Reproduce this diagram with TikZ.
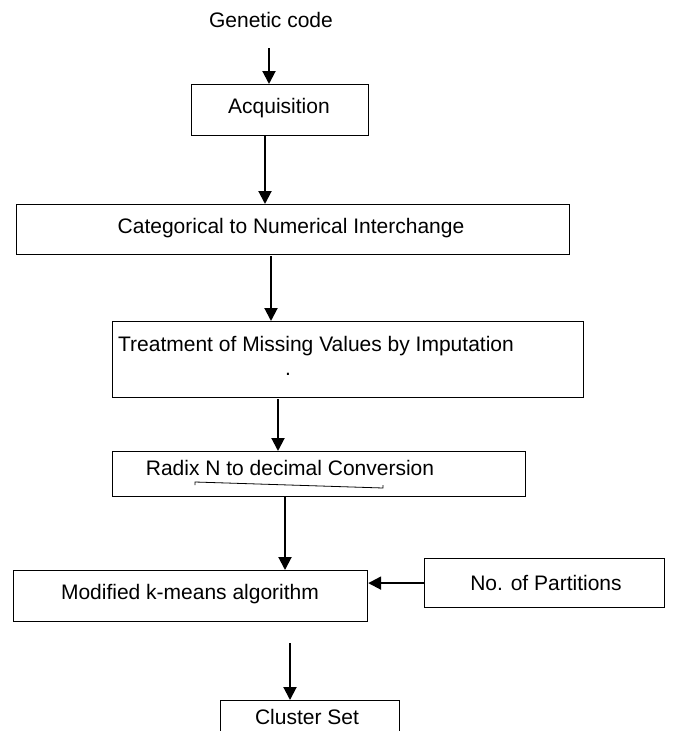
\documentclass[tikz,border=0pt]{standalone}
\usepackage{fontspec}
\setmainfont{Liberation Sans}
\usetikzlibrary{arrows.meta}
\tikzset{
  box/.style={draw, line width=1.2pt, inner sep=0pt, anchor=north west},
  lbl/.style={font=\fontsize{21}{24}\selectfont, inner sep=0pt},
  arr/.style={line width=2pt, -{Triangle[length=13pt,width=13pt]}}
}
\begin{document}
\begin{tikzpicture}[x=1pt,y=-1pt]
\useasboundingbox (0,0) rectangle (683,731);
% boxes
\node[box, minimum width=177pt, minimum height=51pt] (acq) at (191,84) {};
\node[box, minimum width=553pt, minimum height=50pt] (cat) at (16,204) {};
\node[box, minimum width=471pt, minimum height=76pt] (trt) at (112,321) {};
\node[box, minimum width=413pt, minimum height=45pt] (rad) at (112,451) {};
\node[box, minimum width=354pt, minimum height=51pt] (mod) at (13,570) {};
\node[box, minimum width=240pt, minimum height=49pt] (part) at (424,558) {};
\node[box, minimum width=179pt, minimum height=60pt] (clu) at (220,700) {};
% labels
\node[lbl] (tgen) at (271,20) {Genetic code};
\node[lbl] (tacq) at (279,108) {Acquisition};
\node[lbl] (tcat) at (291,228) {Categorical to Numerical Interchange};
\node[lbl] (ttrt) at (316,346) {Treatment of Missing Values by Imputation};
\node[lbl] (tdot) at (288,374) {.};
\node[lbl] (trad) at (290,468) {Radix N to decimal Conversion};
\node[lbl] (tmod) at (190,594) {Modified k-means algorithm};
\node[lbl] (tpart) at (546,583) {No. of Partitions};
\node[lbl] (tclu) at (307,717) {Cluster Set};
% bracket under radix text
\coordinate (b1) at (195,485);
\coordinate (b2) at (383,485);
\draw[line width=0.8pt] (b1) -- ++(0,-3) -- ([yshift=-3pt]b2) -- (b2);
% arrows
\coordinate (a0) at (269,48);
\draw[arr] (a0) -- (acq.north -| a0);
\coordinate (a1) at (265,135);
\draw[arr] (a1) -- (cat.north -| a1);
\coordinate (a2) at (271,256);
\draw[arr] (a2) -- (trt.north -| a2);
\coordinate (a3) at (278,399);
\draw[arr] (a3) -- (rad.north -| a3);
\coordinate (a4) at (285,497);
\draw[arr] (a4) -- (mod.north -| a4);
\coordinate (a5) at (290,643);
\draw[arr] (a5) -- (clu.north -| a5);
\draw[arr] (part.west) -- (mod.east |- part.west);
\end{tikzpicture}
\end{document}
